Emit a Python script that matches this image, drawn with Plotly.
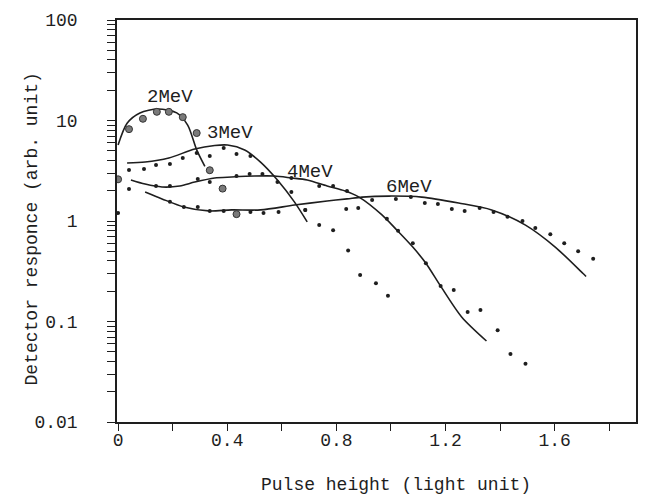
import math
import plotly.graph_objects as go

# ---- data ----
# 2 MeV
c2_x = [0.0, 0.033, 0.080, 0.146, 0.215, 0.255, 0.288, 0.318]
c2_y = [5.7, 9.4, 11.9, 13.0, 11.9, 9.0, 5.1, 3.5]
d2_x = [0.0, 0.040, 0.091, 0.142, 0.186, 0.237, 0.288, 0.336, 0.383, 0.434]
d2_y = [2.6, 8.2, 10.4, 12.2, 12.2, 10.8, 7.5, 3.2, 2.1, 1.17]

# 3 MeV
c3_x = [0.033, 0.099, 0.186, 0.281, 0.354, 0.401, 0.464, 0.522, 0.584, 0.646, 0.693]
c3_y = [3.78, 3.86, 4.24, 5.2, 5.64, 5.7, 5.09, 3.86, 2.56, 1.55, 0.98]
d3_x = [0.040, 0.095, 0.139, 0.190, 0.237, 0.288, 0.336, 0.387, 0.434, 0.485,
        0.584, 0.635, 0.686, 0.737, 0.788, 0.843, 0.887, 0.945, 0.989]
d3_y = [3.22, 3.29, 3.61, 3.69, 4.24, 4.75, 4.43, 5.33, 4.64, 4.43,
        2.44, 1.94, 1.29, 0.91, 0.81, 0.51, 0.29, 0.24, 0.18]

# 4 MeV
c4_x = [0.047, 0.099, 0.161, 0.226, 0.281, 0.354, 0.416, 0.5, 0.573, 0.635, 0.693,
        0.766, 0.832, 0.883, 0.967, 1.022, 1.080, 1.128, 1.182, 1.259, 1.350]
c4_y = [2.56, 2.33, 2.18, 2.23, 2.44, 2.68, 2.74, 2.8, 2.8, 2.68, 2.56,
        2.23, 1.99, 1.73, 1.15, 0.81, 0.55, 0.38, 0.225, 0.111, 0.064]
d4_x = [0.040, 0.139, 0.190, 0.292, 0.336, 0.434, 0.482, 0.529, 0.635, 0.737,
        0.788, 0.839, 0.931, 0.985, 1.026, 1.080, 1.128, 1.182, 1.230, 1.281,
        1.328, 1.391, 1.438, 1.493]
d4_y = [2.08, 2.23, 2.23, 2.62, 2.44, 2.8, 2.94, 2.94, 2.68, 2.23,
        2.23, 1.99, 1.62, 1.05, 0.80, 0.60, 0.38, 0.225, 0.206, 0.124,
        0.13, 0.082, 0.0475, 0.038]

# 6 MeV
c6_x = [0.099, 0.161, 0.241, 0.332, 0.416, 0.522, 0.646, 0.766, 0.839, 0.894,
        0.993, 1.113, 1.248, 1.369, 1.493, 1.602, 1.704, 1.715]
c6_y = [1.94, 1.66, 1.38, 1.26, 1.29, 1.29, 1.44, 1.58, 1.66, 1.73,
        1.77, 1.73, 1.51, 1.29, 0.91, 0.55, 0.30, 0.28]
d6_x = [0.0, 0.190, 0.241, 0.292, 0.336, 0.387, 0.485, 0.533, 0.588, 0.686,
        0.836, 0.880, 1.018, 1.073, 1.124, 1.172, 1.223, 1.270, 1.325, 1.376,
        1.427, 1.482, 1.529, 1.584, 1.635, 1.686, 1.741]
d6_y = [1.2, 1.55, 1.38, 1.38, 1.26, 1.26, 1.23, 1.2, 1.23, 1.29,
        1.32, 1.35, 1.66, 1.73, 1.51, 1.48, 1.32, 1.26, 1.35, 1.23,
        1.1, 1.0, 0.85, 0.74, 0.60, 0.50, 0.42]

labels = ["2MeV", "3MeV", "4MeV", "6MeV"]
label_x = [0.19, 0.409, 0.704, 1.066]
label_y = [17.1, 7.5, 3.07, 2.18]

x_tickvals = [0, 0.2, 0.4, 0.6, 0.8, 1.0, 1.2, 1.4, 1.6, 1.8]
x_ticktext = ["0", "", "0.4", "", "0.8", "", "1.2", "", "1.6", ""]
y_decades = [0.01, 0.1, 1, 10, 100]
y_decade_text = ["0.01", "0.1", "1", "10", "100"]

INK = "#1e1e1e"
FONT = "Liberation Mono"

# every log tick (1..9 per decade); only the decades carry a label
y_tickvals, y_ticktext = [], []
for e, (dv, dt) in enumerate(zip(y_decades, y_decade_text)):
    y_tickvals.append(dv)
    y_ticktext.append(dt)
    if e < len(y_decades) - 1:
        for m in range(2, 10):
            y_tickvals.append(m * dv)
            y_ticktext.append("")

fig = go.Figure()
for cx, cy in [(c2_x, c2_y), (c3_x, c3_y), (c4_x, c4_y), (c6_x, c6_y)]:
    fig.add_trace(go.Scatter(x=cx, y=cy, mode="lines",
                             line=dict(color=INK, width=1.6, shape="spline", smoothing=0.8),
                             showlegend=False, hoverinfo="skip"))
fig.add_trace(go.Scatter(x=d2_x, y=d2_y, mode="markers",
                         marker=dict(size=7, color="#7a7a7a", line=dict(color="#333333", width=1)),
                         showlegend=False))
for dx, dy in [(d3_x, d3_y), (d4_x, d4_y), (d6_x, d6_y)]:
    fig.add_trace(go.Scatter(x=dx, y=dy, mode="markers",
                             marker=dict(size=4, color=INK), showlegend=False))

for t, lx, ly in zip(labels, label_x, label_y):
    fig.add_annotation(x=lx, y=math.log10(ly), xref="x", yref="y", text=t, showarrow=False,
                       font=dict(family=FONT, size=19, color=INK))

fig.add_annotation(xref="paper", yref="paper", x=0.537, y=0, yshift=-63, text="Pulse height (light unit)",
                   showarrow=False, font=dict(family=FONT, size=18, color=INK), yanchor="middle")
fig.add_annotation(xref="paper", yref="paper", x=0, xshift=-85, y=0.479, text="Detector responce (arb. unit)",
                   textangle=-90, showarrow=False, font=dict(family=FONT, size=18, color=INK), xanchor="center")

fig.update_xaxes(range=[-0.004, 1.898], tickvals=x_tickvals, ticktext=x_ticktext,
                 ticks="outside", ticklen=7, tickwidth=1.3, tickcolor=INK,
                 showline=True, linecolor=INK, linewidth=1.6, mirror=True,
                 showgrid=False, zeroline=False,
                 tickfont=dict(family=FONT, size=18, color=INK), ticklabelstandoff=-6)
fig.update_yaxes(type="log", range=[-2, 2], tickvals=y_tickvals, ticktext=y_ticktext,
                 ticks="outside", ticklen=8, tickwidth=1.3, tickcolor=INK,
                 showline=True, linecolor=INK, linewidth=1.6, mirror=True,
                 showgrid=False, zeroline=False,
                 tickfont=dict(family=FONT, size=18, color=INK), ticklabelstandoff=26)

fig.update_layout(width=646, height=495, margin=dict(l=117, r=8, t=20, b=73),
                  paper_bgcolor="white", plot_bgcolor="white")

fig.write_html("out.html")
